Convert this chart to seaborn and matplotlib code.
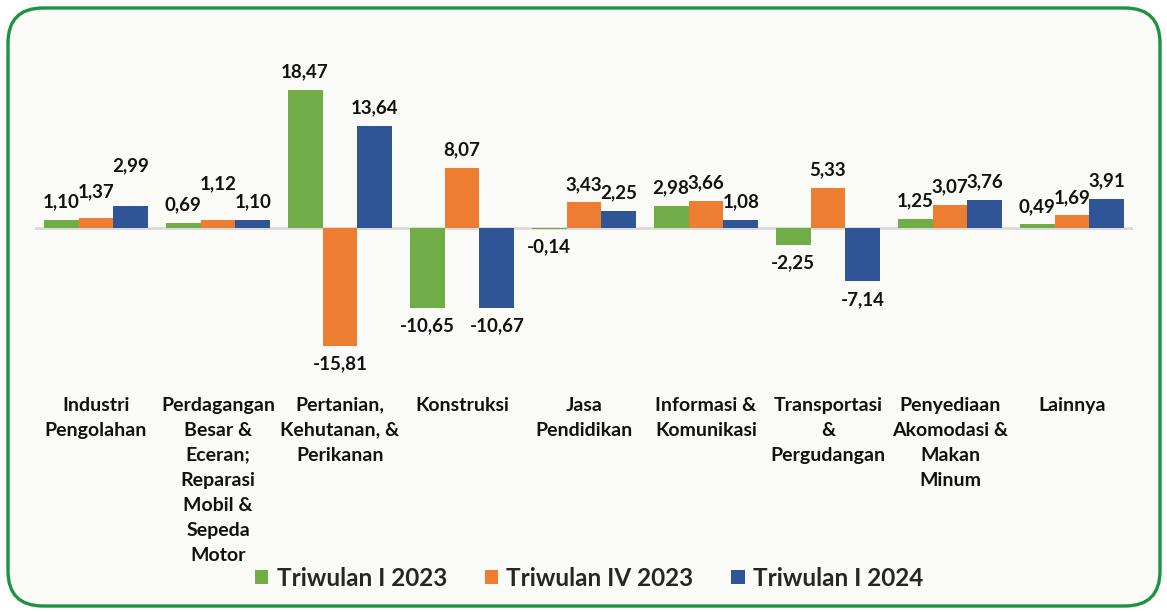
import matplotlib
matplotlib.use("Agg")
import matplotlib.pyplot as plt
from matplotlib.patches import FancyBboxPatch, Patch
import seaborn as sns
import pandas as pd

categories = [
    "Industri\nPengolahan",
    "Perdagangan\nBesar &\nEceran;\nReparasi\nMobil &\nSepeda\nMotor",
    "Pertanian,\nKehutanan, &\nPerikanan",
    "Konstruksi",
    "Jasa\nPendidikan",
    "Informasi &\nKomunikasi",
    "Transportasi\n&\nPergudangan",
    "Penyediaan\nAkomodasi &\nMakan\nMinum",
    "Lainnya",
]
series = ["Triwulan I 2023", "Triwulan IV 2023", "Triwulan I 2024"]
tw1_2023 = [1.10, 0.69, 18.47, -10.65, -0.14, 2.98, -2.25, 1.25, 0.49]
tw4_2023 = [1.37, 1.12, -15.81, 8.07, 3.43, 3.66, 5.33, 3.07, 1.69]
tw1_2024 = [2.99, 1.10, 13.64, -10.67, 2.25, 1.08, -7.14, 3.76, 3.91]

colors = ["#70AD47", "#ED7D31", "#2F5597"]
FONT = ["Lato", "DejaVu Sans"]

rows = []
for s, vals in zip(series, [tw1_2023, tw4_2023, tw1_2024]):
    for c, v in zip(categories, vals):
        rows.append({"Sektor": c, "Periode": s, "Nilai": v})
df = pd.DataFrame(rows)

sns.set_theme(style="white")
plt.rcParams["font.family"] = FONT

W, H = 1167, 612
fig = plt.figure(figsize=(W / 100, H / 100), dpi=100)
fig.patch.set_facecolor("white")

box = FancyBboxPatch((8 / W, 6 / H), 1152 / W, 598 / H,
                     boxstyle="round,pad=0,rounding_size=0.03",
                     transform=fig.transFigure, facecolor="#FAFBF6",
                     edgecolor="#1E9143", linewidth=2.4, zorder=-5,
                     mutation_aspect=W / H)
fig.patches.append(box)

ax_left, ax_right = 35 / W, 1133 / W
ax_bot, ax_top = (H - 380) / H, (H - 60) / H
ax = fig.add_axes([ax_left, ax_bot, ax_right - ax_left, ax_top - ax_bot])
ax.set_facecolor("none")
ax.set_zorder(2)

sns.barplot(data=df, x="Sektor", y="Nilai", hue="Periode", palette=colors,
            width=0.86, gap=0, ax=ax, legend=False, saturation=1,
            edgecolor="none")

ax.set_xlim(-0.5, len(categories) - 0.5)
ax.set_ylim(-20.35, 22.49)
ax.axhline(0, color="#D9D9D9", lw=2, zorder=0.5)
for sp in ax.spines.values():
    sp.set_visible(False)
ax.set_yticks([])
ax.set_xlabel("")
ax.set_ylabel("")
ax.tick_params(axis="x", length=0, pad=12)
ax.set_xticks(range(len(categories)))
ax.set_xticklabels(categories, fontsize=14, fontweight="bold", color="#111111",
                   linespacing=1.57)

# extra lift (points) for a few labels that sit higher in the reference
nudge = {(0, 1): 6, (0, 2): 16, (1, 1): 13}

for si, cont in enumerate(ax.containers):
    vals = [tw1_2023, tw4_2023, tw1_2024][si]
    for ci, (bar, v) in enumerate(zip(cont, vals)):
        x = bar.get_x() + bar.get_width() / 2
        off = 13 + nudge.get((ci, si), 0)
        dy = off if v >= 0 else -off
        ax.annotate(f"{v:.2f}".replace(".", ","), (x, v), xytext=(0, dy),
                    textcoords="offset points", ha="center", va="center",
                    fontsize=13.5, fontweight="bold", color="#111111")

handles = [Patch(facecolor=c, edgecolor="none") for c in colors]
leg = fig.legend(handles, series, loc="center", bbox_to_anchor=(589 / W, 1 - 578 / H),
                 ncol=3, frameon=False,
                 prop={"family": FONT, "weight": "bold", "size": 17.5},
                 handlelength=0.55, handleheight=0.55, handletextpad=0.35,
                 columnspacing=1.55)
leg.set_zorder(3)

fig.savefig("out.png", dpi=100, facecolor="white")
